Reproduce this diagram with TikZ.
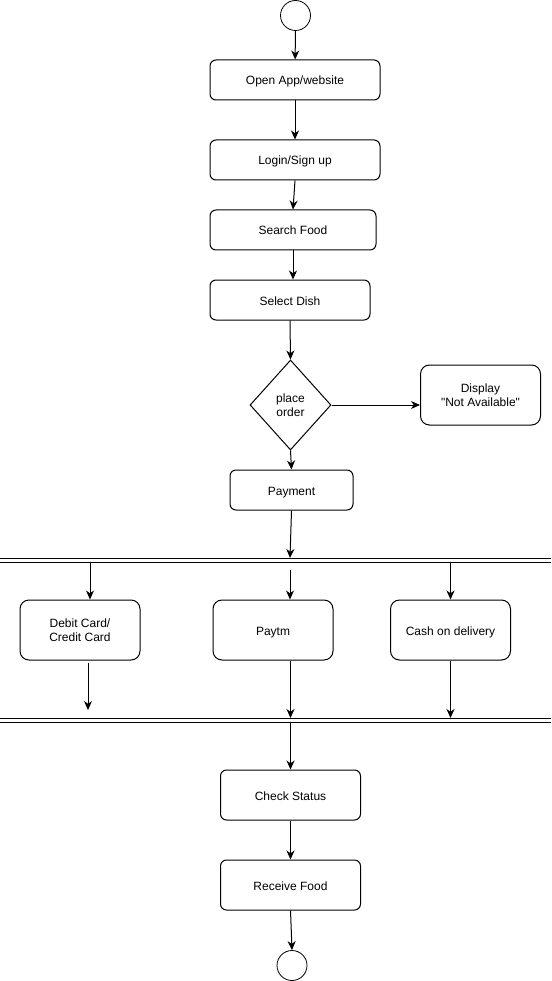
\documentclass[tikz,border=0pt]{standalone}
\usepackage{fontspec}
\setmainfont{Liberation Sans}[Ligatures=TeXOff]
\usetikzlibrary{arrows.meta,shapes.geometric}
\begin{document}
\begin{tikzpicture}[x=1pt,y=-1pt,
  every node/.style={font=\fontsize{12pt}{14pt}\selectfont, inner sep=0pt},
  action/.style={draw, line width=1pt, rounded corners=6pt, align=center},
  oneline/.style={text height=11pt, text depth=1pt},
  terminal/.style={draw, line width=0.8pt, circle, minimum size=30pt},
  decision/.style={draw, line width=1pt, diamond, aspect=0.89, minimum width=81pt, minimum height=90pt, align=center},
  bar/.style={line width=1.2pt},
  arr/.style={line width=1pt, -{Stealth[length=9pt,width=8pt,inset=2.8pt]}}]
\useasboundingbox (0,0) rectangle (551,981);

% initial and final nodes
\node[terminal] (start) at (295.5,15.5) {};
\node[terminal] (stop) at (292,965.5) {};

% main activity chain
\node[action, oneline, minimum width=170pt, minimum height=40pt] (open) at (295,80) {Open App/website};
\node[action, oneline, minimum width=170pt, minimum height=40pt] (login) at (295,160) {Login/Sign up};
\node[action, oneline, minimum width=166pt, minimum height=40pt] (search) at (293,230) {Search Food};
\node[action, oneline, minimum width=160pt, minimum height=40pt] (dish) at (290,300) {Select Dish};
\node[decision] (order) at (290.5,405) {place\\order};
\node[action, rounded corners=9pt, minimum width=120pt, minimum height=60pt] (display) at (480.5,395) {Display\\"Not Available"};
\node[action, oneline, minimum width=123pt, minimum height=40pt] (payment) at (291.5,490) {Payment};

% fork and join bars
\draw[bar] (0,558.3) -- (551,558.3);
\draw[bar] (0,562.3) -- (551,562.3);
\draw[bar] (0,718.3) -- (551,718.3);
\draw[bar] (0,722.3) -- (551,722.3);
\coordinate (fork) at (290,558);
\coordinate (forkD) at (90,562);
\coordinate (forkP) at (290,570);
\coordinate (forkC) at (450.5,562);
\coordinate (joinD) at (88,710);
\coordinate (joinP) at (290.5,718);
\coordinate (joinC) at (450.5,718);
\coordinate (join) at (290.5,722);

% payment options
\node[action, rounded corners=9pt, minimum width=120pt, minimum height=60pt] (debit) at (80,630) {Debit Card/\\Credit Card};
\node[action, oneline, rounded corners=9pt, minimum width=120pt, minimum height=60pt] (paytm) at (273,630) {Paytm};
\node[action, oneline, rounded corners=9pt, minimum width=120pt, minimum height=60pt] (cash) at (450.5,630) {Cash on delivery};

% closing steps
\node[action, oneline, minimum width=140pt, minimum height=50pt] (check) at (290.5,795) {Check Status};
\node[action, oneline, minimum width=140pt, minimum height=50pt] (receive) at (290.5,885) {Receive Food};

% connectors
\draw[arr] (start) -- (open);
\draw[arr] (open) -- (login);
\draw[arr] (login.south) -- (search.north);
\draw[arr] (search.south) -- (search.south |- dish.north);
\draw[arr] (dish.south) -- (order.north);
\draw[arr] (order.east) -- (display.west |- order.east);
\draw[arr] (order.south) -- (payment.north);
\draw[arr] (payment.south) -- (fork);
\draw[arr] (forkD) -- (forkD |- debit.north);
\draw[arr] (forkP) -- (forkP |- paytm.north);
\draw[arr] (forkC) -- (cash.north);
\draw[arr] (joinD |- debit.south) ++(0,2) -- (joinD);
\draw[arr] (joinP |- paytm.south) -- (joinP);
\draw[arr] (cash.south) -- (joinC);
\draw[arr] (join) -- (check.north);
\draw[arr] (check) -- (receive);
\draw[arr] (receive.south) -- (stop.north);
\end{tikzpicture}
\end{document}
